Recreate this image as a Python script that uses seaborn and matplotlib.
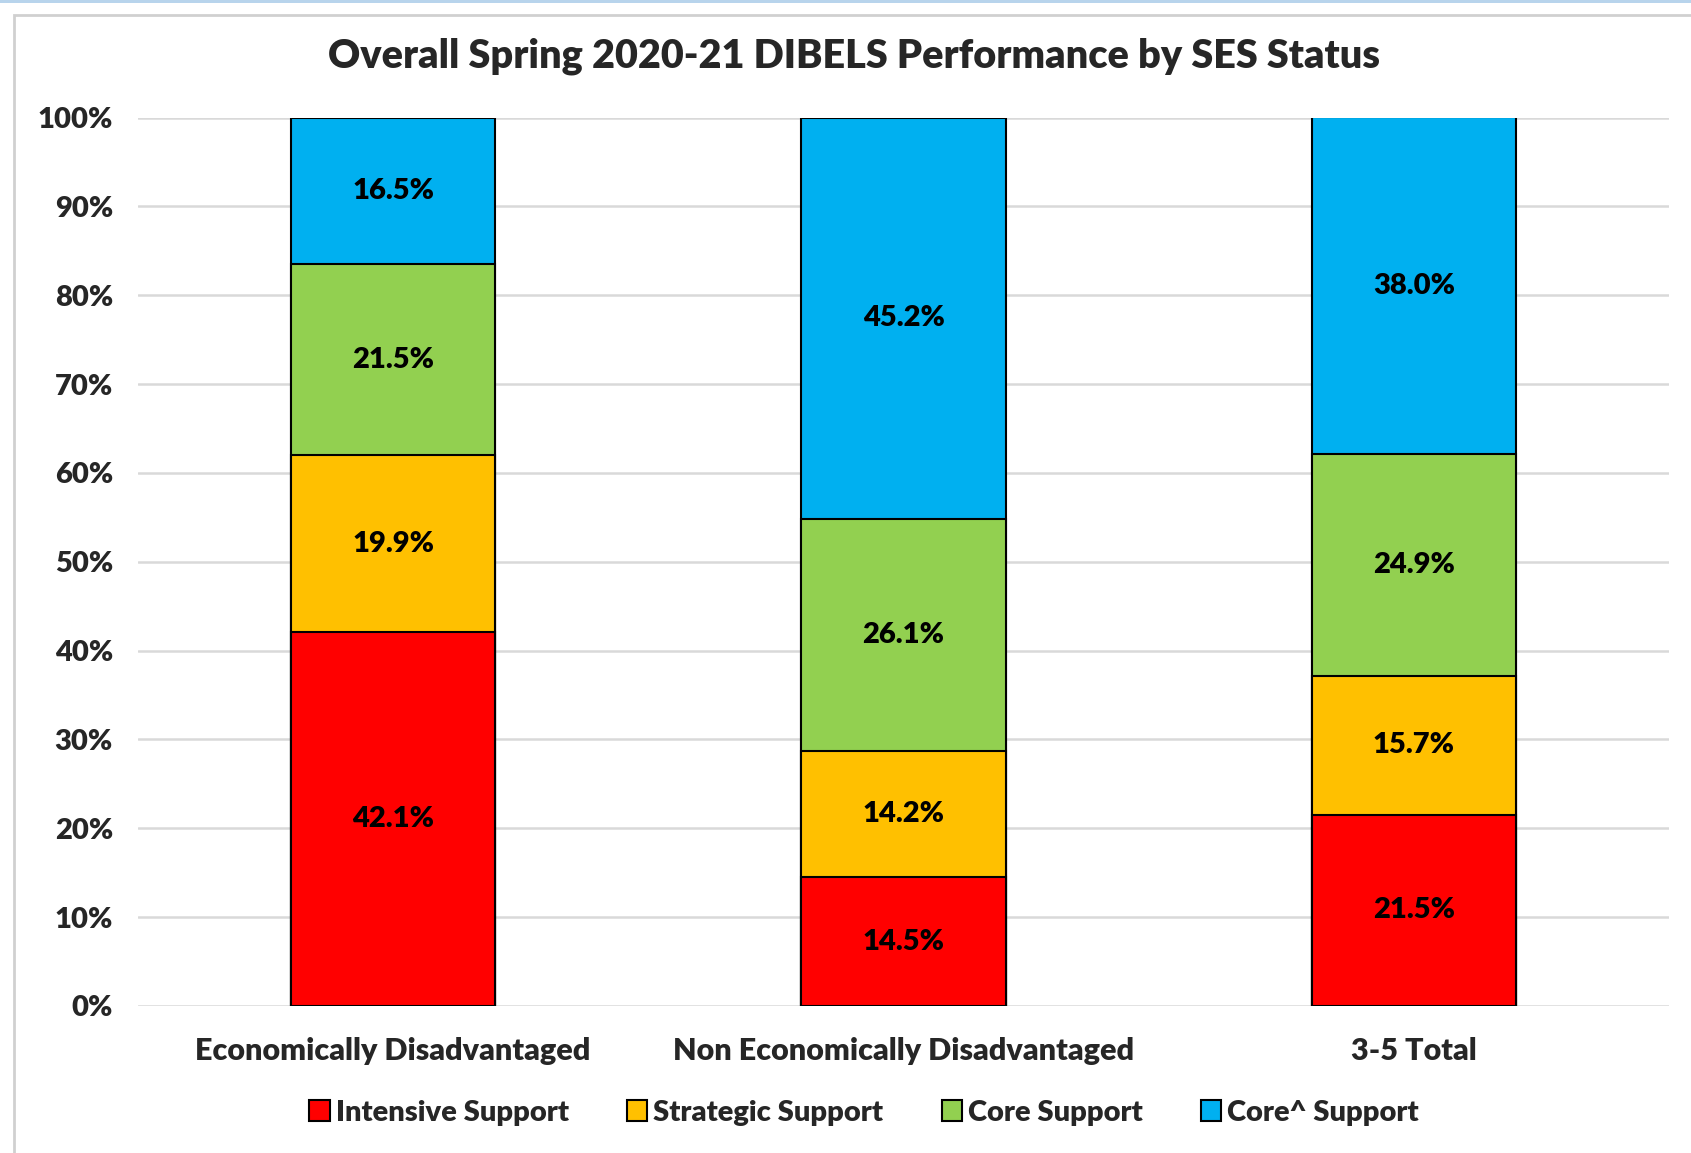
import numpy as np
import pandas as pd
import matplotlib.pyplot as plt
import matplotlib.patches as mpatches
import seaborn as sns

# -----------------------------
# DATA
# -----------------------------
groups = ["Economically Disadvantaged", "Non Economically Disadvantaged", "3-5 Total"]
levels = ["Intensive Support", "Strategic Support", "Core Support", "Core^ Support"]
intensive = [42.1, 14.5, 21.5]
strategic = [19.9, 14.2, 15.7]
core = [21.5, 26.1, 24.9]
core_plus = [16.5, 45.2, 38.0]

colors = ["#FF0000", "#FFC000", "#92D050", "#00B0F0"]

sns.set_theme(style="white")
plt.rcParams["font.family"] = ["Lato", "DejaVu Sans"]

series = [intensive, strategic, core, core_plus]

# cumulative tops, drawn from the top segment down so each overlays the previous
cum = np.cumsum(np.array(series), axis=0)

fig = plt.figure(figsize=(16.91, 11.53), dpi=100)
ax = fig.add_axes([0.0816, 0.1275, 0.9054, 0.7705])

for i in reversed(range(len(levels))):
    tmp = pd.DataFrame({"group": groups, "top": cum[i]})
    sns.barplot(data=tmp, x="group", y="top", color=colors[i], width=0.4,
                edgecolor="black", linewidth=1.5, saturation=1, ax=ax, zorder=3)

# -----------------------------
# LABELS
# -----------------------------
for j in range(len(groups)):
    bottom = 0
    for i in range(len(levels)):
        v = series[i][j]
        ax.text(j, bottom + v / 2, f"{v:.1f}%", ha="center", va="center",
                fontsize=21, fontweight="heavy", color="black", zorder=5)
        bottom += v

ax.set_xlim(-0.5, 2.5)
ax.set_ylim(0, 100)
ax.set_yticks(np.arange(0, 101, 10))
ax.set_yticklabels([f"{t}%" for t in range(0, 101, 10)])
ax.set_xlabel("")
ax.set_ylabel("")
ax.tick_params(axis="y", length=0, labelsize=21, pad=18)
ax.tick_params(axis="x", length=0, labelsize=22, pad=22)
for lbl in ax.get_xticklabels() + ax.get_yticklabels():
    lbl.set_fontweight("heavy")
ax.grid(axis="y", color="#D9D9D9", linewidth=1.8, zorder=0)
ax.set_axisbelow(True)
for s in ax.spines.values():
    s.set_visible(False)

fig.text(0.505, 0.951, "Overall Spring 2020-21 DIBELS Performance by SES Status",
         ha="center", va="center", fontsize=28.5, fontweight="heavy")

# legend
handles = [mpatches.Patch(facecolor=c, edgecolor="black", linewidth=1.5, label=l)
           for c, l in zip(colors, levels)]
fig.legend(handles=handles, loc="center", bbox_to_anchor=(0.511, 0.035), ncol=4,
           frameon=False, prop={"size": 21, "weight": "heavy"},
           handlelength=0.7, handleheight=0.7, handletextpad=0.2, columnspacing=2.0)

# outer chart frame
fig.patches.append(mpatches.Rectangle((0.008, -0.01), 1.2, 0.997, transform=fig.transFigure,
                                      fill=False, edgecolor="#D0D0D0", linewidth=2))
fig.patches.append(mpatches.Rectangle((0, 0.997), 1, 0.003, transform=fig.transFigure,
                                      facecolor="#B8D4EC", edgecolor="none"))

plt.savefig("out.png", dpi=100)
